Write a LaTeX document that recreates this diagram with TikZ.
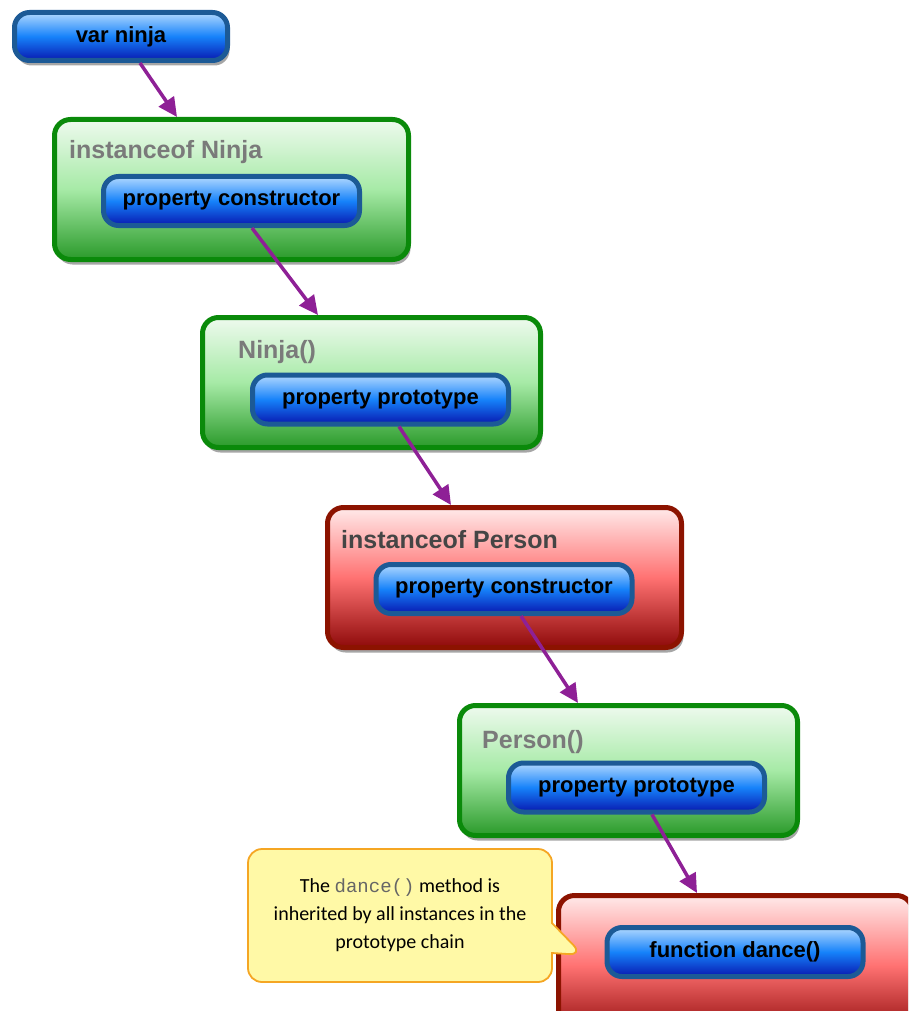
\documentclass[tikz,border=0pt]{standalone}
\usepackage{fontspec}
\setmainfont{Liberation Sans}
\setmonofont{Liberation Mono}
\newfontfamily\notefont{Carlito}
\usetikzlibrary{shadows,arrows.meta,shapes.callouts,calc}
\definecolor{gborder}{HTML}{0A8A0A}
\definecolor{gtop}{HTML}{EEFAEE}
\definecolor{gmid}{HTML}{A6EAA6}
\definecolor{gbot}{HTML}{2A9A2A}
\definecolor{rborder}{HTML}{8C1300}
\definecolor{rtop}{HTML}{FFEAEA}
\definecolor{rmid}{HTML}{FF7272}
\definecolor{rbot}{HTML}{8E0A0A}
\definecolor{bborder}{HTML}{1C5A96}
\definecolor{btop}{HTML}{B0D8FF}
\definecolor{bmid}{HTML}{1682FA}
\definecolor{bbot}{HTML}{0818B0}
\definecolor{arrowc}{HTML}{8E2096}
\definecolor{notefill}{HTML}{FFF9A6}
\definecolor{noteborder}{HTML}{F5A623}
\begin{document}
\begin{tikzpicture}[x=1pt,y=-1pt,
  shadowed/.style={drop shadow={shadow xshift=2pt,shadow yshift=-5pt,opacity=0.35,fill=black}},
  gbox/.style={shadowed,draw=gborder,line width=5pt,rounded corners=16pt,top color=gtop,bottom color=gbot,middle color=gmid,inner sep=0pt},
  rbox/.style={shadowed,draw=rborder,line width=5pt,rounded corners=16pt,top color=rtop,bottom color=rbot,middle color=rmid,inner sep=0pt},
  pill/.style={draw=bborder,line width=5pt,rounded corners=15pt,top color=btop,bottom color=bbot,middle color=bmid,
    font=\fontsize{22}{26}\selectfont\bfseries,text=black,inner sep=0pt,minimum width=256pt,minimum height=49pt},
  glabel/.style={anchor=base west,font=\fontsize{25}{30}\selectfont\bfseries,inner sep=0pt,text=black!52},
  rlabel/.style={anchor=base west,font=\fontsize{25}{30}\selectfont\bfseries,inner sep=0pt,text=black!73},
  link/.style={draw=arrowc,line width=3.5pt,-{Triangle[length=19pt,width=18pt]}}
]
\useasboundingbox (0,0) rectangle (908,1011);
\clip (0,0) rectangle (908,1011);

% var ninja
\node[pill,shadowed,minimum width=213pt,minimum height=48pt] (vn) at (121,36.5) {var ninja};

% instanceof Ninja
\node[gbox,minimum width=354pt,minimum height=140pt] (ob1) at (231.5,189.5) {};
\node[glabel] (l1) at (69,159) {instanceof Ninja};
\node[pill] (ib1) at (231.5,201) {property constructor};

% Ninja()
\node[gbox,minimum width=338pt,minimum height=130pt] (ob2) at (371.5,382.5) {};
\node[glabel] (l2) at (238,358) {Ninja()};
\node[pill] (ib2) at (380.5,399.5) {property prototype};

% instanceof Person
\node[rbox,minimum width=354pt,minimum height=140pt] (ob3) at (504.5,577.5) {};
\node[rlabel] (l3) at (341,548) {instanceof Person};
\node[pill] (ib3) at (504,589) {property constructor};

% Person()
\node[gbox,minimum width=338pt,minimum height=130pt] (ob4) at (628.5,770.5) {};
\node[glabel] (l4) at (482,748) {Person()};
\node[pill] (ib4) at (636.5,787.5) {property prototype};

% function dance()
\node[rbox,minimum width=354pt,minimum height=140pt] (ob5) at (735.5,965.5) {};
\node[pill] (ib5) at (735,952) {function dance()};

% callout
\node[rectangle callout,draw=noteborder,line width=1.8pt,fill=notefill,rounded corners=14pt,
  minimum width=304pt,minimum height=133pt,callout absolute pointer={(583,955)},callout pointer width=30pt,
  align=center,font=\notefont\fontsize{20}{28}\selectfont,inner sep=0pt] (note) at (400,915.5)
  {The {\ttfamily\fontsize{19}{28}\selectfont\color{black!60}dance()} method is\\inherited by all instances in the\\prototype chain};

% arrows
\draw[link] ([xshift=19pt]vn.south) -- ([xshift=-54.5pt]ob1.north);
\draw[link] ([xshift=20.5pt]ib1.south) -- ([xshift=-53.5pt]ob2.north);
\draw[link] ([xshift=18.5pt]ib2.south) -- ([xshift=-53.5pt]ob3.north);
\draw[link] ([xshift=17pt]ib3.south) -- ([xshift=-50.5pt]ob4.north);
\draw[link] ([xshift=15.5pt]ib4.south) -- ([xshift=-38.5pt]ob5.north);
\end{tikzpicture}
\end{document}
